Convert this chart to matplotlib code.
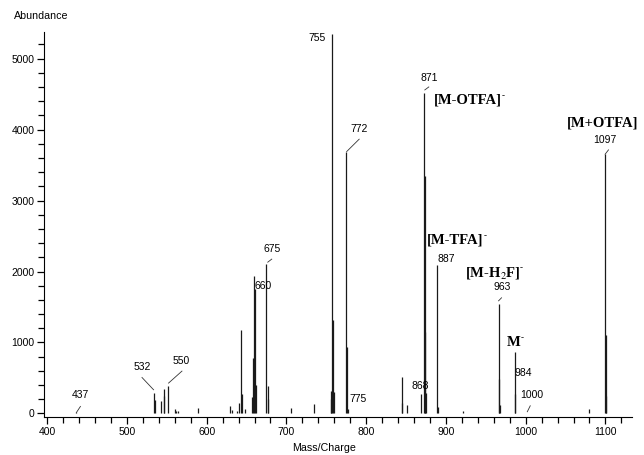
import matplotlib
matplotlib.use("Agg")
import matplotlib.pyplot as plt
from matplotlib.ticker import MultipleLocator

plt.rcParams['font.family'] = ['Liberation Sans', 'DejaVu Sans']
plt.rcParams['mathtext.fontset'] = 'stix'

# peak positions (m/z) and abundances
masses = [436.7, 533.4, 535.0, 543.0, 546.0, 547.0, 551.5, 560.0, 562.0, 564.0,
          589.0, 629.0, 632.0, 638.0, 641.0, 643.0, 643.8, 648.0,
          657.0, 658.0, 659.0, 660.5, 662.0, 675.0, 676.5, 677.5, 706.0, 735.0,
          755.5, 756.5, 757.5, 758.6, 759.5, 774.6, 775.8, 777.0,
          844.4, 845.2, 851.8, 869.0, 872.6, 873.4, 874.2, 875.2, 889.0, 890.0,
          921.4, 966.0, 966.8, 967.5, 986.0, 986.8, 1079.6, 1099.6, 1100.2, 1100.8]
abundance = [20, 290, 190, 180, 340, 240, 390, 60, 40, 30,
             70, 100, 50, 40, 150, 1170, 280, 60,
             230, 780, 1940, 1750, 400, 2100, 380, 200, 70, 130,
             310, 200, 5350, 1320, 300, 3690, 940, 60,
             520, 150, 120, 280, 4520, 3350, 1150, 290, 2090, 90,
             40, 1545, 490, 120, 860, 270, 60, 3650, 1100, 250]

# peak number labels: text, x, y
num_text = ["437", "532", "550", "675", "660", "755", "772", "871", "1097",
            "887", "963", "984", "1000", "868", "775"]
num_x = [441.7, 518.9, 568.0, 681.6, 671.0, 738.0, 791.0, 879.7, 1098.7,
         900.6, 970.7, 997.4, 1007.0, 867.2, 789.2]
num_y = [254, 654, 746, 2320, 1799, 5296, 4006, 4732, 3855,
         2175, 1780, 577, 263, 380, 203]

# leader lines (x0, y0, x1, y1)
leaders = [(436.7, 14, 441.7, 99), (518.9, 507, 533.4, 334), (569, 597, 552.2, 428),
           (676.6, 2132, 681.6, 2175), (775.5, 3690, 791.2, 3865),
           (873.5, 4559, 878.5, 4601), (1099.6, 3653, 1103.8, 3714),
           (966, 1587, 969.7, 1630), (1002, 24, 1005.7, 108)]

# ion assignments (charge drawn as a small superscript dash)
ion_text = ["[M-OTFA]", "[M+OTFA]", "[M-TFA]", r"[M-H$_2$F]", "M"]
ion_charge = [True, False, True, True, True]
ion_x = [928, 1096.6, 912, 958.5, 985]
ion_y = [4418, 4090, 2446, 1977, 1000]

fig = plt.figure(figsize=(6.44, 4.55), dpi=100)
ax = fig.add_axes([0.0683, 0.0835, 0.9127, 0.8469])

ax.vlines(masses, 0, abundance, color='#1a1a1a', lw=0.9)

for t, x, y in zip(num_text, num_x, num_y):
    ax.text(x, y, t, ha='center', va='center', fontsize=7.5)
for x0, y0, x1, y1 in leaders:
    ax.plot([x0, x1], [y0, y1], color='#333333', lw=0.6)
for t, c, x, y in zip(ion_text, ion_charge, ion_x, ion_y):
    txt = ax.text(x, y, t, ha='center', va='center', fontsize=10.5,
                  family='Liberation Serif', fontweight='bold', clip_on=False)
    if c:
        ax.annotate("-", xy=(1, 0.82), xycoords=txt, xytext=(-0.3, 0),
                    textcoords='offset points', ha='left', va='center',
                    fontsize=6.5, family='Liberation Serif', fontweight='bold')

ax.set_xlim(396, 1133)
ax.set_ylim(-50, 5380)
ax.xaxis.set_major_locator(MultipleLocator(100))
ax.xaxis.set_minor_locator(MultipleLocator(20))
ax.yaxis.set_major_locator(MultipleLocator(1000))
ax.yaxis.set_minor_locator(MultipleLocator(200))
ax.set_xticks([400, 500, 600, 700, 800, 900, 1000, 1100])
ax.set_yticks([0, 1000, 2000, 3000, 4000, 5000])
ax.tick_params(which='major', length=5, width=0.9, labelsize=7.5, pad=2)
ax.tick_params(which='minor', length=4, width=0.9)
ax.spines['top'].set_visible(False)
ax.spines['right'].set_visible(False)

fig.text(41 / 644, 1 - 16 / 455, "Abundance", ha='center', va='center', fontsize=7.7)
fig.text(324 / 644, 1 - 448 / 455, "Mass/Charge", ha='center', va='center', fontsize=7.7)

fig.savefig("out.png", dpi=100)
